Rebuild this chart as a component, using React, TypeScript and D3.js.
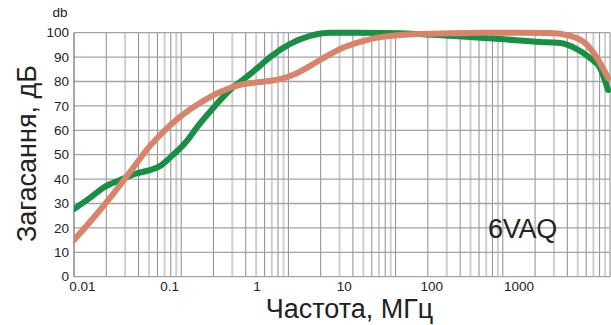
import React from 'react';
import * as d3 from 'd3';

// values (frequency in MHz, attenuation in dB)
const greenFreq = [0.008, 0.0122, 0.018, 0.027, 0.04, 0.059, 0.077, 0.1, 0.15, 0.22, 0.33, 0.49, 0.73, 0.95, 1.41, 2.39, 4.05, 6.9, 15, 43, 163, 607, 1745, 2960, 4390, 6520, 8490, 10490];
const greenDb = [27.7, 32.3, 36.8, 39.6, 42.1, 43.7, 45.3, 48.7, 54.8, 62.6, 70.0, 76.5, 81.4, 84.7, 90.0, 95.4, 98.7, 100, 100, 99.8, 98.7, 97.4, 96.2, 95.8, 93.7, 89.6, 85.5, 76.5];

const orangeFreq = [0.008, 0.0122, 0.0207, 0.0351, 0.0595, 0.0884, 0.131, 0.222, 0.377, 0.639, 1.08, 1.83, 2.73, 4.05, 6.01, 8.93, 15.1, 25.6, 73.6, 275, 1029, 2271, 3848, 5716, 7847, 10486];
const orangeDb = [15.0, 22.4, 32.3, 42.9, 53.6, 60.1, 65.5, 71.2, 75.7, 78.6, 79.8, 81.0, 83.1, 86.4, 90.0, 93.3, 96.2, 98.2, 99.5, 99.9, 100, 99.9, 98.7, 95.8, 89.6, 81.4];

const xTicks = [0.01, 0.1, 1, 10, 100, 1000];
const xTickLabels = ['0.01', '0.1', '1', '10', '100', '1000'];
const yTicks = [0, 10, 20, 30, 40, 50, 60, 70, 80, 90, 100];

const width = 611;
const height = 325;
const left = 74;
const right = 610;
const top = 32.7;
const bottom = 276.7;

const font = '"Liberation Sans", Arial, Helvetica, sans-serif';

const App = () => {
  const x = d3.scaleLog().domain([0.01, 1000]).range([82.4, 519]);
  const y = d3.scaleLinear().domain([0, 100]).range([bottom, top]);
  // printed grid: 5 decades that do not line up with the labels
  const grid = d3.scaleLog().domain([1, 1e5]).range([left, right]);

  const line = d3
    .line<[number, number]>()
    .x((d) => x(d[0]))
    .y((d) => y(d[1]))
    .curve(d3.curveMonotoneX);

  const green = greenFreq.map((f, i) => [f, greenDb[i]] as [number, number]);
  const orange = orangeFreq.map((f, i) => [f, orangeDb[i]] as [number, number]);

  const gridTicks = grid.ticks().filter((t) => t > 1);

  return (
    <svg width={width} height={height} style={{ position: 'absolute', left: 0, top: 0, background: '#fff' }}>
      <defs>
        <clipPath id="plot">
          <rect x={left} y={0} width={right - left + 2} height={bottom + 2} />
        </clipPath>
      </defs>

      {gridTicks.map((t, i) => {
        const k = Math.round(t / Math.pow(10, Math.floor(Math.log10(t) + 1e-9)));
        const dark = k % 2 === 0 || k === 1;
        return (
          <line
            key={i}
            x1={grid(t)}
            x2={grid(t)}
            y1={top}
            y2={bottom}
            stroke={dark ? '#8c8c8c' : '#cfcfcf'}
            strokeWidth={dark ? 1 : 2}
          />
        );
      })}

      {yTicks.map((t) => (
        <line key={t} x1={left} x2={right} y1={y(t)} y2={y(t)} stroke="#a3a3a3" strokeWidth={1.3} />
      ))}
      <line x1={left} x2={left} y1={top} y2={bottom} stroke="#777" strokeWidth={1.3} />

      <g clipPath="url(#plot)" fill="none" strokeWidth={6} strokeLinecap="round">
        <path d={line(green) || ''} stroke="#178f45" />
        <path d={line(orange) || ''} stroke="#d9836a" />
      </g>

      <g fontFamily={font} fontSize={13.5} fill="#222">
        {yTicks.map((t) => (
          <text key={t} x={69} y={y(t)} dy="0.35em" textAnchor="end">
            {t}
          </text>
        ))}
        {xTicks.map((t, i) => (
          <text key={t} x={x(t)} y={291} textAnchor="middle">
            {xTickLabels[i]}
          </text>
        ))}
        <text x={60} y={17} textAnchor="middle">db</text>
      </g>

      <text x={349.5} y={318} textAnchor="middle" fontFamily={font} fontSize={27} fill="#222">
        Частота, МГц
      </text>
      <text
        transform="translate(36,153.5) rotate(-90)"
        textAnchor="middle"
        fontFamily={font}
        fontSize={27}
        fill="#222"
      >
        Загасання, дБ
      </text>
      <text x={488} y={238} fontFamily={font} fontSize={27} fill="#222" letterSpacing={-0.3}>
        6VAQ
      </text>
    </svg>
  );
};

export default App;
